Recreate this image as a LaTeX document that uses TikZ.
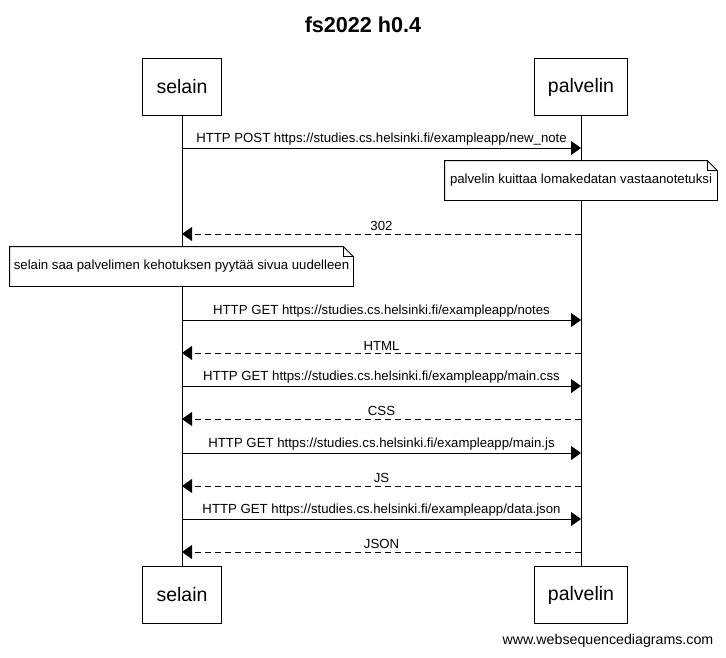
\documentclass[tikz,border=0pt]{standalone}
\usepackage{fontspec}
\setmainfont{Liberation Sans}
\usetikzlibrary{arrows.meta}
\tikzset{
  actor/.style={draw,fill=white,minimum height=57pt,inner sep=0pt,font=\fontsize{19.5}{22}\selectfont},
  msg/.style={->},
  reply/.style={->,dash pattern=on 6pt off 4pt},
  lbl/.style={above,inner sep=2.5pt,font=\fontsize{13.2}{15}\selectfont},
  note/.style={fill=white,minimum height=39pt,inner sep=0pt,font=\fontsize{13.2}{15}\selectfont}
}
% outline of a note with a folded corner
\newcommand{\foldnote}[1]{%
  \draw (#1.south west) -- (#1.south east) -- ([yshift=-10pt]#1.north east)
    -- ([xshift=-10pt]#1.north east) -- (#1.north west) -- cycle;
  \draw ([xshift=-10pt]#1.north east) |- ([yshift=-10pt]#1.north east);}
\begin{document}
\begin{tikzpicture}[x=1pt,y=-1pt,>={Triangle[length=10pt,width=14pt]},line width=0.8pt]
  \useasboundingbox (0,0) rectangle (726,657);
  \node[font=\bfseries\fontsize{21.6}{25}\selectfont] (title) at (363,25) {fs2022 h0.4};
  % actors
  \node[actor,minimum width=79pt] (selain) at (182,87) {selain};
  \node[actor,minimum width=93pt] (palvelin) at (581,87) {palvelin};
  \node[actor,minimum width=79pt] (selainB) at (182,595) {selain};
  \node[actor,minimum width=93pt] (palvelinB) at (581,595) {palvelin};
  \draw (selain) -- (selainB);
  \draw (palvelin) -- (palvelinB);
  % points on the lifelines
  \coordinate (s1) at (182,148);  \coordinate (p1) at (581,148);
  \coordinate (s2) at (182,234);  \coordinate (p2) at (581,234);
  \coordinate (s3) at (182,320);  \coordinate (p3) at (581,320);
  \coordinate (s4) at (182,353);  \coordinate (p4) at (581,353);
  \coordinate (s5) at (182,386);  \coordinate (p5) at (581,386);
  \coordinate (s6) at (182,419);  \coordinate (p6) at (581,419);
  \coordinate (s7) at (182,453);  \coordinate (p7) at (581,453);
  \coordinate (s8) at (182,486);  \coordinate (p8) at (581,486);
  \coordinate (s9) at (182,519);  \coordinate (p9) at (581,519);
  \coordinate (s10) at (182,552); \coordinate (p10) at (581,552);
  % messages
  \draw[msg] (s1) -- node[lbl] {HTTP POST https://studies.cs.helsinki.fi/exampleapp/new\_note} (p1);
  \node[note,minimum width=272pt] (note1) at (581,180.5) {palvelin kuittaa lomakedatan vastaanotetuksi};
  \foldnote{note1}
  \draw[reply] (p2) -- node[lbl] {302} (s2);
  \node[note,minimum width=343pt] (note2) at (181.5,266.5) {selain saa palvelimen kehotuksen pyytää sivua uudelleen};
  \foldnote{note2}
  \draw[msg] (s3) -- node[lbl] {HTTP GET https://studies.cs.helsinki.fi/exampleapp/notes} (p3);
  \draw[reply] (p4) -- node[lbl] {HTML} (s4);
  \draw[msg] (s5) -- node[lbl] {HTTP GET https://studies.cs.helsinki.fi/exampleapp/main.css} (p5);
  \draw[reply] (p6) -- node[lbl] {CSS} (s6);
  \draw[msg] (s7) -- node[lbl] {HTTP GET https://studies.cs.helsinki.fi/exampleapp/main.js} (p7);
  \draw[reply] (p8) -- node[lbl] {JS} (s8);
  \draw[msg] (s9) -- node[lbl] {HTTP GET https://studies.cs.helsinki.fi/exampleapp/data.json} (p9);
  \draw[reply] (p10) -- node[lbl] {JSON} (s10);
  \node[anchor=east,font=\fontsize{14.2}{16}\selectfont] (foot) at (717,641) {www.websequencediagrams.com};
\end{tikzpicture}
\end{document}
